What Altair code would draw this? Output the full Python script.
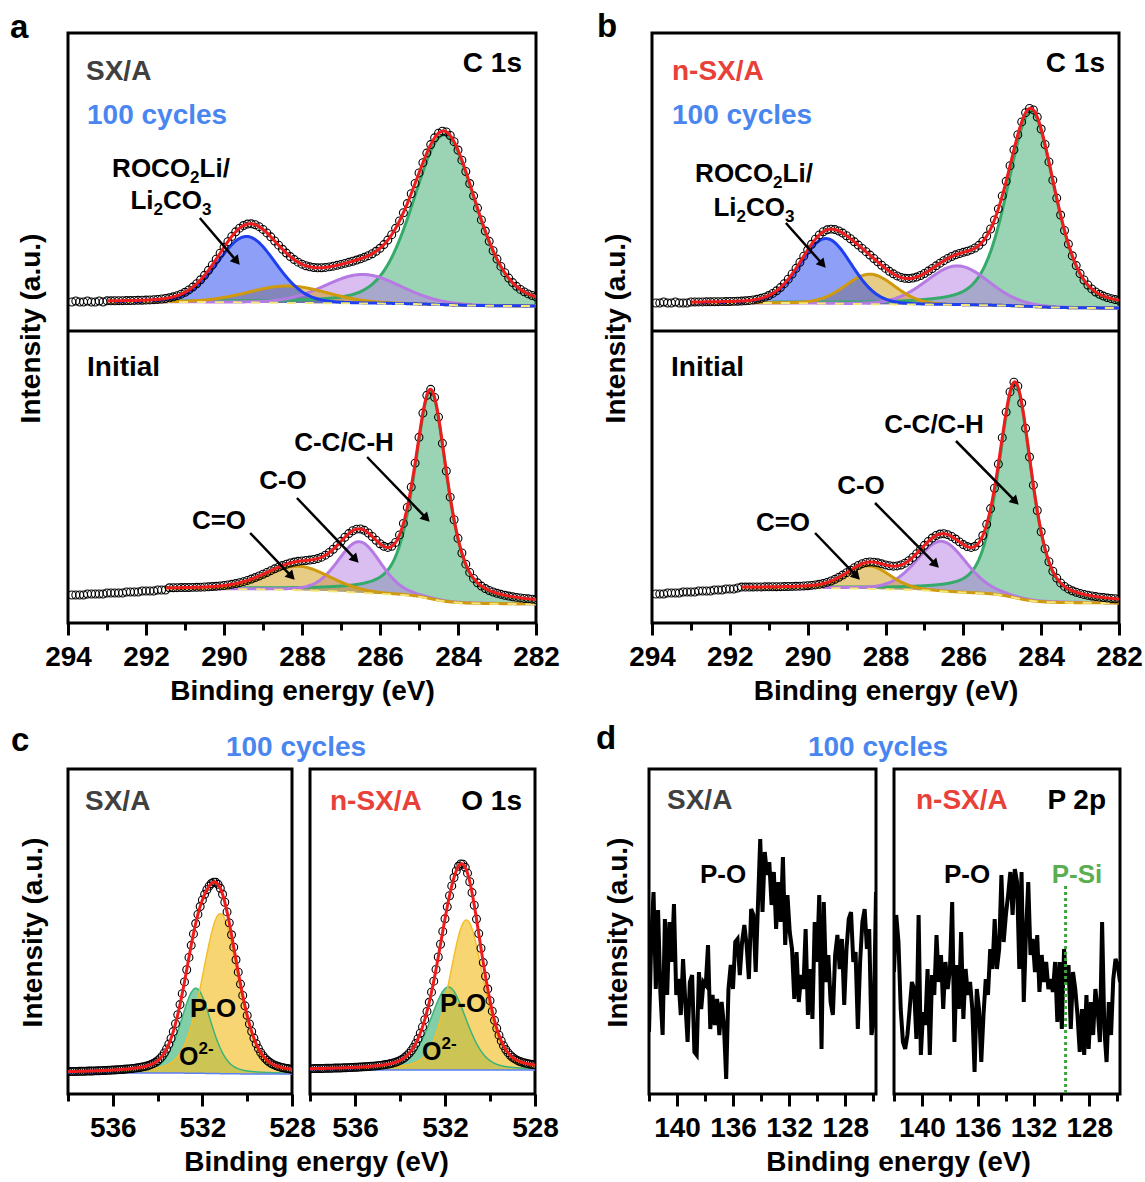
import math
import numpy as np
import pandas as pd
import altair as alt

FONT = "Liberation Sans"

# ---------------- panel a (SX/A), C 1s ----------------
# fitted components: centre (eV), height, FWHM (eV), Lorentzian fraction
A_TOP_NAME = ["C-C/C-H", "C-O", "C=O", "ROCO2Li/Li2CO3"]
A_TOP_CENTER = [284.35, 286.44, 288.36, 289.42]
A_TOP_HEIGHT = [170, 29, 17, 66]
A_TOP_FWHM = [1.90, 2.30, 2.40, 1.75]
A_TOP_ETA = [0.30, 0.10, 0.10, 0.10]
A_TOP_BG = [29, 25]                # background at fit start / at 282 eV
A_TOP_START = 293.0
A_TOP_PRE = [29, 30, 29, 29, 30, 29, 29, 30, 29]          # data 293.9 ... 293.1 eV

A_BOT_NAME = ["C-C/C-H", "C-O", "C=O"]
A_BOT_CENTER = [284.70, 286.53, 288.10]
A_BOT_HEIGHT = [208, 51, 24]
A_BOT_FWHM = [1.00, 1.30, 1.90]
A_BOT_ETA = [0.60, 0.20, 0.20]
A_BOT_BG = [34, 19]
A_BOT_START = 291.47
A_BOT_PRE = [28, 28, 28, 28, 29, 29, 29, 29, 29, 30, 30, 30, 30, 30,
             31, 31, 31, 31, 32, 32, 32, 32, 33, 33, 33]   # 293.9 ... 291.5 eV

# ---------------- panel b (n-SX/A), C 1s ----------------
B_TOP_NAME = ["C-C/C-H", "C-O", "C=O", "ROCO2Li/Li2CO3"]
B_TOP_CENTER = [284.26, 286.15, 288.40, 289.53]
B_TOP_HEIGHT = [195, 39, 30, 65]
B_TOP_FWHM = [1.45, 1.90, 1.50, 1.55]
B_TOP_ETA = [0.40, 0.10, 0.10, 0.10]
B_TOP_BG = [28, 23]
B_TOP_START = 293.0
B_TOP_PRE = [28, 28, 29, 28, 28, 29, 28, 28, 28]

B_BOT_NAME = ["C-C/C-H", "C-O", "C=O"]
B_BOT_CENTER = [284.67, 286.56, 288.43]
B_BOT_HEIGHT = [214, 50, 23]
B_BOT_FWHM = [1.00, 1.50, 1.30]
B_BOT_ETA = [0.50, 0.20, 0.20]
B_BOT_BG = [35, 20]
B_BOT_START = 291.7
B_BOT_PRE = [29, 29, 29, 30, 30, 30, 30, 31, 31, 31, 31,
             32, 32, 32, 32, 33, 33, 33, 34, 34, 34, 35]    # 293.9 ... 291.8 eV

# ---------------- panel c, O 1s ----------------
C_NAME = ["O2-", "P-O"]
C_SX_CENTER = [532.29, 531.20]
C_SX_HEIGHT = [85, 160]
C_SX_FWHM = [1.60, 1.90]
C_SX_ETA = [0.30, 0.30]
C_SX_BG = [21, 20]
C_NSX_CENTER = [531.85, 531.05]
C_NSX_HEIGHT = [83, 150]
C_NSX_FWHM = [1.90, 1.80]
C_NSX_ETA = [0.30, 0.30]
C_NSX_BG = [24, 24]

# ---------------- panel d, P 2p (raw counts, 142.0 -> 125.8 eV) ----------------
D_E_RANGE = [142.0, 125.8]
D_SX = [62, 155, 202, 105, 184, 102, 59, 175, 99, 172,
        132, 190, 99, 115, 79, 135, 92, 52, 112, 119,
        42, 39, 122, 85, 112, 109, 149, 65, 99, 69,
        95, 59, 92, 69, 15, 105, 129, 105, 152, 155,
        119, 152, 169, 149, 115, 185, 179, 122, 189, 255,
        182, 242, 219, 232, 189, 222, 165, 212, 172, 237,
        149, 199, 162, 145, 95, 142, 92, 119, 105, 165,
        79, 125, 75, 172, 132, 199, 45, 192, 112, 139,
        92, 79, 139, 159, 125, 155, 89, 145, 175, 182,
        132, 142, 65, 132, 172, 185, 145, 165, 59, 72,
        202]
D_NSX = [122, 179, 152, 85, 52, 45, 59, 85, 112, 105,
         55, 179, 39, 82, 69, 125, 39, 119, 99, 159,
         112, 139, 85, 132, 105, 125, 192, 52, 129, 85,
         162, 75, 125, 99, 112, 85, 22, 105, 85, 32,
         79, 115, 99, 145, 125, 175, 125, 145, 219, 152,
         179, 199, 222, 179, 225, 212, 125, 222, 92, 162,
         212, 139, 155, 122, 159, 102, 139, 112, 132, 105,
         115, 102, 132, 72, 132, 65, 145, 112, 129, 65,
         122, 105, 79, 42, 85, 39, 99, 45, 92, 59,
         105, 85, 52, 172, 65, 32, 92, 59, 115, 135,
         129, 112]
P_SI_E = 129.7
P_SI_TOP = 208

# ---------------- styles ----------------
COMP_COLOR = {"C-C/C-H": "#36AA6A", "C-O": "#B57BE3", "C=O": "#D09A0E",
              "ROCO2Li/Li2CO3": "#1E40F0", "O2-": "#3DB37A", "P-O": "#F5BE28"}
RED = "#EE1C1C"
GRAY = "#404040"
BLUE_TXT = "#4A86F0"
RED_TXT = "#E8413A"
GREEN_TXT = "#5BAE4F"

# Arial/Liberation Sans bold advance widths (1/1000 em)
WID = {' ': 278, '(': 333, ')': 333, '-': 333, '.': 278, '/': 278, '=': 584,
       'A': 722, 'C': 722, 'H': 722, 'L': 611, 'O': 778, 'P': 667, 'R': 722,
       'S': 667, 'X': 667, 'i': 278, 'n': 611}
for _d in "0123456789":
    WID[_d] = 556


def twidth(s, size):
    return sum(WID.get(ch, 556) for ch in s) / 1000.0 * size


def pv(E, c, h, w, eta):
    x = (E - c) / (w / 2.0)
    return h * ((1 - eta) * np.exp(-np.log(2) * x * x) + eta / (1 + x * x))


def fit(center, height, fwhm, eta, bg, start, lo, step=0.02):
    n = int(round((start - lo) / step))
    E = np.round(lo + step * np.arange(n + 1), 3)
    comps = [pv(E, c, h, w, e) for c, h, w, e in zip(center, height, fwhm, eta)]
    tot = np.sum(comps, axis=0)
    cum = np.concatenate([[0.0], np.cumsum(0.5 * (tot[1:] + tot[:-1]) * step)])
    back = bg[1] + (bg[0] - bg[1]) * cum / cum[-1]
    return E, comps, back, back + tot


def txt(t, x, y, size=28, color="black", align="left"):
    return alt.Chart(pd.DataFrame({"t": [t]})).mark_text(
        font=FONT, fontSize=size, fontWeight="bold", color=color, align=align,
        baseline="alphabetic").encode(x=alt.value(x), y=alt.value(y), text="t:N")


def rich(parts, x, y, align="center"):
    """parts: (text, size, baseline shift)"""
    total = sum(twidth(p[0], p[1]) for p in parts)
    cx = x - total / 2.0 if align == "center" else x
    out = []
    for t, s, dy in parts:
        out.append(txt(t, cx, y + dy, size=s))
        cx += twidth(t, s)
    return out


def xaxis(values, test, title=None, title_x=None):
    kw = dict(values=values, format="d", labelExpr=f"{test} ? datum.label : ''",
              tickSize={"condition": {"test": test, "value": 12}, "value": 7},
              tickWidth=3, tickColor="black", domain=False, grid=False,
              labelFont=FONT, labelFontSize=28, labelFontWeight="bold",
              labelColor="black", labelPadding=8, labelFlush=False,
              labelOverlap=False, title=title, titleFont=FONT, titleFontSize=28,
              titleFontWeight="bold", titleColor="black", titlePadding=6)
    if title_x is not None:
        kw["titleX"] = title_x
    return alt.Axis(**kw)


def yaxis(title_x, title_y):
    return alt.Axis(title="Intensity (a.u.)", labels=False, ticks=False, domain=False,
                    grid=False, titleFont=FONT, titleFontSize=28, titleFontWeight="bold",
                    titleColor="black", titleAngle=270, titleX=title_x, titleY=title_y,
                    titleAlign="center", titleBaseline="middle")


def arrows(X, Y, items, W, span):
    """items: (E_start, I_start, E_tip, I_tip)"""
    out = []
    ppe = W / span
    for e1, i1, e2, i2 in items:
        dxp = -(e2 - e1) * ppe
        dyp = -(i2 - i1)
        L = math.hypot(dxp, dyp)
        ux, uy = dxp / L, dyp / L
        ang = math.degrees(math.atan2(ux, -uy)) % 360
        back = 5.0
        eh = e2 + back * ux / ppe
        ih = i2 + back * uy
        df = pd.DataFrame({"E1": [e1], "I1": [i1], "E2": [eh], "I2": [ih]})
        out.append(alt.Chart(df).mark_rule(color="black", strokeWidth=2.5).encode(
            x=X("E1"), x2="E2", y=Y("I1"), y2="I2"))
        out.append(alt.Chart(df).mark_point(shape="triangle-up", filled=True, color="black",
                                            opacity=1, size=110, angle=ang).encode(
            x=X("E2"), y=Y("I2")))
    return out


def spectrum(X, Y, names, fitres, circE, circI, comp_width=3.0, comp_op=0.5,
             bg_style="c1s"):
    E, comps, back, env = fitres
    layers = []
    for nm, comp in zip(names, comps):
        df = pd.DataFrame({"E": E, "lo": back, "hi": back + comp})
        layers.append(alt.Chart(df).mark_area(color=COMP_COLOR[nm], opacity=comp_op,
                                              clip=True).encode(x=X("E"), y=Y("lo"), y2="hi"))
    for nm, comp in zip(names, comps):
        df = pd.DataFrame({"E": E, "I": back + comp})
        layers.append(alt.Chart(df).mark_line(color=COMP_COLOR[nm], strokeWidth=comp_width,
                                              clip=True).encode(x=X("E"), y=Y("I")))
    dfb = pd.DataFrame({"E": E, "I": back})
    if bg_style == "c1s":
        layers.append(alt.Chart(dfb).mark_line(color="#F3E67A", strokeWidth=2,
                                               strokeDash=[9, 9], clip=True).encode(
            x=X("E"), y=Y("I")))
    else:
        layers.append(alt.Chart(dfb).mark_line(color="#5B7FF5", strokeWidth=1.5,
                                               clip=True).encode(x=X("E"), y=Y("I")))
    dfc = pd.DataFrame({"E": circE, "I": circI})
    layers.append(alt.Chart(dfc).mark_point(shape="circle", filled=False, size=62,
                                            strokeWidth=1.1, color="black", opacity=1,
                                            clip=True).encode(x=X("E"), y=Y("I")))
    dfe = pd.DataFrame({"E": E, "I": env})
    layers.append(alt.Chart(dfe).mark_line(color=RED, strokeWidth=3, clip=True).encode(
        x=X("E"), y=Y("I")))
    return layers


def c1s_circles(fitres, pre, start):
    E, comps, back, env = fitres
    ce, ci = [], []
    for k, v in enumerate(pre):
        ce.append(round(293.9 - 0.1 * k, 2))
        ci.append(v)
    k0 = int(math.floor(start * 10 + 1e-6))
    for k in range(k0, 2819, -1):
        e = k / 10.0
        idx = int(round((e - 282.0) / 0.02))
        ce.append(e)
        ci.append(float(env[idx]))
    return ce, ci


W_A, W_B = 468, 467
H_TOP, H_BOT = 298, 292
H_AB = H_TOP + H_BOT


def c1s_panel(W, top, bot, top_extra, bot_extra, ycfg):
    """top/bot: (names, center, height, fwhm, eta, bg, start, pre)"""
    xs = alt.Scale(domain=[282, 294], reverse=True, nice=False, zero=False)
    xa = xaxis(list(range(282, 295)), "datum.value % 2 == 0", title="Binding energy (eV)")
    ys_bot = alt.Scale(domain=[0, H_AB], nice=False, zero=False)
    ys_top = alt.Scale(domain=[-H_BOT, H_TOP], nice=False, zero=False)

    def X(f):
        return alt.X(f"{f}:Q", scale=xs, axis=xa)

    def Yb(f):
        return alt.Y(f"{f}:Q", scale=ys_bot, axis=None)

    def Yt(f):
        return alt.Y(f"{f}:Q", scale=ys_top, axis=None)

    layers = []
    fr = fit(*top[1:7], 282.0)
    ce, ci = c1s_circles(fr, top[7], top[6])
    layers += spectrum(X, Yt, top[0], fr, ce, ci)
    layers += top_extra(X, Yt)
    fr = fit(*bot[1:7], 282.0)
    ce, ci = c1s_circles(fr, bot[7], bot[6])
    layers += spectrum(X, Yb, bot[0], fr, ce, ci)
    layers += bot_extra(X, Yb)
    # divider between the two stacked frames (carries the shared y title)
    div = pd.DataFrame({"v": [H_BOT]})
    layers.append(alt.Chart(div).mark_rule(color="black", strokeWidth=3).encode(
        y=alt.Y("v:Q", scale=ys_bot, axis=yaxis(*ycfg))))
    return alt.layer(*layers).resolve_scale(y="independent").properties(width=W, height=H_AB)


ROCO = [("ROCO", 26, 0), ("2", 17, 6), ("Li/", 26, 0)]
LICO = [("Li", 26, 0), ("2", 17, 6), ("CO", 26, 0), ("3", 17, 6)]

panel_a = c1s_panel(
    W_A,
    (A_TOP_NAME, A_TOP_CENTER, A_TOP_HEIGHT, A_TOP_FWHM, A_TOP_ETA, A_TOP_BG, A_TOP_START, A_TOP_PRE),
    (A_BOT_NAME, A_BOT_CENTER, A_BOT_HEIGHT, A_BOT_FWHM, A_BOT_ETA, A_BOT_BG, A_BOT_START, A_BOT_PRE),
    lambda X, Y: [txt("a", -58, 5, size=33), txt("SX/A", 18, 47, color=GRAY),
                  txt("100 cycles", 19, 91, color=BLUE_TXT),
                  txt("C 1s", 454, 39, align="right")]
    + rich(ROCO, 103, 144) + rich(LICO, 103, 176)
    + arrows(X, Y, [(290.62, 113, 289.59, 66)], W_A, 12),
    lambda X, Y: [txt("Initial", 19, 45 + H_TOP),
                  txt("C-C/C-H", 276, 120 + H_TOP, size=26, align="center"),
                  txt("C-O", 215, 158 + H_TOP, size=26, align="center"),
                  txt("C=O", 151, 198 + H_TOP, size=26, align="center")]
    + arrows(X, Y, [(286.33, 166, 284.72, 101), (288.13, 125, 286.54, 60),
                    (289.33, 90, 288.18, 43)], W_A, 12),
    (-37, 295))

panel_b = c1s_panel(
    W_B,
    (B_TOP_NAME, B_TOP_CENTER, B_TOP_HEIGHT, B_TOP_FWHM, B_TOP_ETA, B_TOP_BG, B_TOP_START, B_TOP_PRE),
    (B_BOT_NAME, B_BOT_CENTER, B_BOT_HEIGHT, B_BOT_FWHM, B_BOT_ETA, B_BOT_BG, B_BOT_START, B_BOT_PRE),
    lambda X, Y: [txt("b", -55, 4, size=33), txt("n-SX/A", 20, 47, color=RED_TXT),
                  txt("100 cycles", 20, 91, color=BLUE_TXT),
                  txt("C 1s", 453, 39, align="right")]
    + rich(ROCO, 102, 149) + rich(LICO, 102, 183)
    + arrows(X, Y, [(290.56, 108, 289.53, 63)], W_B, 12),
    lambda X, Y: [txt("Initial", 19, 45 + H_TOP),
                  txt("C-C/C-H", 282, 102 + H_TOP, size=26, align="center"),
                  txt("C-O", 209, 163 + H_TOP, size=26, align="center"),
                  txt("C=O", 131, 200 + H_TOP, size=26, align="center")]
    + arrows(X, Y, [(286.19, 182, 284.57, 118), (288.27, 120, 286.62, 55),
                    (289.81, 90, 288.65, 43)], W_B, 12),
    (-36, 295))


# ---- panel c ----
def o1s_sub(W, H, center, height, fwhm, eta, bg, extra, ycfg=None, title_x=None):
    xs = alt.Scale(domain=[528, 538], reverse=True, nice=False, zero=False)
    ys = alt.Scale(domain=[0, H], nice=False, zero=False)
    xa = xaxis(list(range(528, 539, 2)), "datum.value % 4 == 0",
               title="Binding energy (eV)" if title_x is not None else None,
               title_x=title_x)
    ya = yaxis(*ycfg) if ycfg else None

    def X(f):
        return alt.X(f"{f}:Q", scale=xs, axis=xa)

    def Y(f):
        return alt.Y(f"{f}:Q", scale=ys, axis=ya)

    fr = fit(center, height, fwhm, eta, bg, 538.0, 528.0)
    E, comps, back, env = fr
    ce, ci = [], []
    for k in range(5380, 5279, -1):
        e = k / 10.0
        idx = int(round((e - 528.0) / 0.02))
        ce.append(e)
        ci.append(float(env[idx]))
    layers = spectrum(X, Y, C_NAME, fr, ce, ci, comp_width=1.5, comp_op=0.65,
                      bg_style="o1s")
    layers += extra(X, Y)
    return alt.layer(*layers).properties(width=W, height=H)


H_C = 325
c_left = o1s_sub(
    224, H_C, C_SX_CENTER, C_SX_HEIGHT, C_SX_FWHM, C_SX_ETA, C_SX_BG,
    lambda X, Y: [txt("c", -57, -18, size=33), txt("100 cycles", 228, -13, color=BLUE_TXT,
                                                   align="center"),
                  txt("SX/A", 17, 41, color=GRAY), txt("P-O", 145, 248, size=26, align="center")]
    + rich([("O", 25, 0), ("2-", 17, -11)], 111, 296, align="left"),
    ycfg=(-35, 163), title_x=248)

c_right = o1s_sub(
    225, H_C, C_NSX_CENTER, C_NSX_HEIGHT, C_NSX_FWHM, C_NSX_ETA, C_NSX_BG,
    lambda X, Y: [txt("n-SX/A", 20, 41, color=RED_TXT), txt("O 1s", 212, 41, align="right"),
                  txt("P-O", 153, 243, size=26, align="center")]
    + rich([("O", 25, 0), ("2-", 17, -11)], 112, 291, align="left"))


# ---- panel d ----
def p2p_sub(W, H, counts, extra, ycfg=None, title_x=None):
    xs = alt.Scale(domain=[D_E_RANGE[1], D_E_RANGE[0]], reverse=True, nice=False, zero=False)
    ys = alt.Scale(domain=[0, H], nice=False, zero=False)
    xa = xaxis(list(range(126, 143, 2)), "datum.value % 4 == 0",
               title="Binding energy (eV)" if title_x is not None else None,
               title_x=title_x)
    ya = yaxis(*ycfg) if ycfg else None

    def X(f):
        return alt.X(f"{f}:Q", scale=xs, axis=xa)

    def Y(f):
        return alt.Y(f"{f}:Q", scale=ys, axis=ya)

    E = np.linspace(D_E_RANGE[0], D_E_RANGE[1], len(counts))
    df = pd.DataFrame({"E": E, "I": counts})
    layers = [alt.Chart(df).mark_line(color="black", strokeWidth=4, clip=True).encode(
        x=X("E"), y=Y("I"))]
    layers += extra(X, Y)
    return alt.layer(*layers).properties(width=W, height=H)


d_left = p2p_sub(
    227, H_C, D_SX,
    lambda X, Y: [txt("d", -53, -20, size=33),
                  txt("100 cycles", 229, -13, color=BLUE_TXT, align="center"),
                  txt("SX/A", 18, 40, color=GRAY), txt("P-O", 74, 114, size=26, align="center")],
    ycfg=(-31, 163), title_x=249)


def d_right_extra(X, Y):
    dfr = pd.DataFrame({"E": [P_SI_E], "I1": [P_SI_TOP], "I2": [0]})
    return [alt.Chart(dfr).mark_rule(color="#3DA33D", strokeWidth=3, strokeDash=[3, 3]).encode(
                x=X("E"), y=Y("I1"), y2="I2"),
            txt("n-SX/A", 22, 40, color=RED_TXT), txt("P 2p", 212, 40, align="right"),
            txt("P-O", 73, 114, size=26, align="center"),
            txt("P-Si", 183, 114, size=26, color=GREEN_TXT, align="center")]


d_right = p2p_sub(226, H_C, D_NSX, d_right_extra)

spacer = alt.Chart(pd.DataFrame({"t": [0]})).mark_point(opacity=0).encode(
    x=alt.value(0), y=alt.value(0)).properties(
    width=78, height=H_C, view=alt.ViewBackground(strokeOpacity=0))

row1 = alt.hconcat(panel_a, panel_b, spacing=116, bounds="flush")
row2 = alt.hconcat(c_left, c_right, spacer, d_left, d_right, spacing=18, bounds="flush")

chart = alt.vconcat(row1, row2, spacing=14).properties(
    padding={"left": 8, "top": 9, "right": 0, "bottom": 0},
    background="white",
).configure_view(stroke="black", strokeWidth=3)

chart.save("out.html", embed_options={"renderer": "svg", "actions": False})
